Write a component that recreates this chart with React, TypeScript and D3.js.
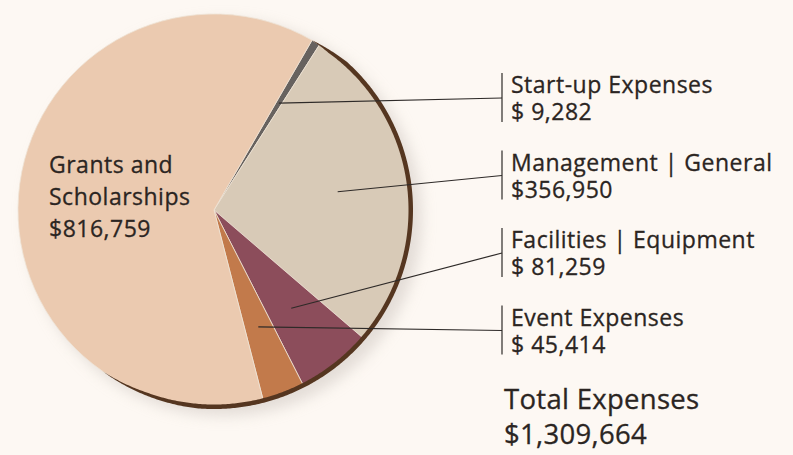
import { useEffect, useRef } from "react";
import * as d3 from "d3";

const CATEGORIES = [
  "Start-up Expenses",
  "Management | General",
  "Facilities | Equipment",
  "Event Expenses",
  "Grants and Scholarships",
];
const AMOUNTS = [9282, 356950, 81259, 45414, 816759];
const AMOUNT_LABELS = ["$ 9,282", "$356,950", "$ 81,259", "$ 45,414", "$816,759"];
const SLICE_COLORS = ["#67625f", "#d8cab7", "#8c4d5b", "#c27a4b", "#ebcab0"];
const GRANTS_LINES = ["Grants and", "Scholarships"];
const TOTAL_TITLE = "Total Expenses";

const W = 793;
const H = 455;
const CX = 214;
const CY = 210;
const R = 196;
const INK = "#2b2522";
const FONT = "'Open Sans', Lato, sans-serif";
const deg = (v: number) => (v * Math.PI) / 180;

// rim thickness around the edge: fades in at top right, out at bottom left
function rimWidth(a: number): number {
  const d = (a * 180) / Math.PI;
  if (d < 30 || d > 215) return 0;
  if (d < 42) return ((d - 30) / 12) * 3;
  if (d > 185) return ((215 - d) / 30) * 3;
  return 3;
}

export default function App() {
  const svgRef = useRef<SVGSVGElement>(null);

  useEffect(() => {
    document.body.style.margin = "0";
    const svg = d3.select(svgRef.current);
    svg.selectAll("*").remove();

    svg.append("rect").attr("width", W).attr("height", H).attr("fill", "#fdf8f3");

    const defs = svg.append("defs");
    defs.append("filter").attr("id", "soft").attr("x", "-20%").attr("y", "-20%")
      .attr("width", "140%").attr("height", "140%")
      .append("feGaussianBlur").attr("stdDeviation", 7);

    const g = svg.append("g").attr("transform", `translate(${CX},${CY})`);

    // soft shadow behind the pie
    g.append("circle").attr("cx", 10).attr("cy", 8).attr("r", R + 2)
      .attr("fill", "#d9d2cc").attr("opacity", 0.7).attr("filter", "url(#soft)");

    const pie = d3.pie<number>().sort(null).value((d) => d)
      .startAngle(deg(30))
      .endAngle(deg(30) + 2 * Math.PI);
    const arcs = pie(AMOUNTS);
    const arc = d3.arc<d3.PieArcDatum<number>>().innerRadius(0).outerRadius(R);
    const leaderArc = d3.arc<d3.PieArcDatum<number>>().innerRadius(125).outerRadius(125);

    g.selectAll("path.slice").data(arcs).enter().append("path")
      .attr("class", "slice")
      .attr("d", arc)
      .attr("fill", (_d, i) => SLICE_COLORS[i])
      .attr("stroke", "#efe3d6")
      .attr("stroke-width", 0.8);

    // dark rim along the lower right edge
    const rimAngles = d3.range(deg(29), deg(216), deg(0.5));
    const rim = d3.areaRadial<number>()
      .angle((a) => a)
      .innerRadius((a) => R - Math.min(1.5, rimWidth(a)))
      .outerRadius((a) => R + rimWidth(a));
    g.append("path").attr("d", rim(rimAngles)).attr("fill", "#553620");

    const textStyle = (t: d3.Selection<SVGTextElement, unknown, null, undefined>, size: number) =>
      t.attr("font-family", FONT).attr("font-size", size).attr("letter-spacing", 0.5)
        .attr("fill", INK).attr("stroke", INK).attr("stroke-width", 0.3);

    // leader lines and labels for the four smaller slices
    const lx = 502;
    arcs.slice(0, 4).forEach((a, i) => {
      const ly = 98 + i * 77.5;
      const [px, py] = leaderArc.centroid(a);
      svg.append("line")
        .attr("x1", CX + px).attr("y1", CY + py)
        .attr("x2", lx).attr("y2", ly)
        .attr("stroke", "#2e2a28").attr("stroke-width", 1.2);
      svg.append("line")
        .attr("x1", lx).attr("x2", lx)
        .attr("y1", ly - 25).attr("y2", ly + 24)
        .attr("stroke", "#2e2a28").attr("stroke-width", 1.2);
      const t = textStyle(svg.append("text"), 23);
      t.append("tspan").attr("x", lx + 9).attr("y", ly - 5).text(CATEGORIES[i]);
      t.append("tspan").attr("x", lx + 9).attr("y", ly + 22).text(AMOUNT_LABELS[i]);
    });

    // grants label inside the big slice
    const gt = textStyle(svg.append("text"), 23);
    GRANTS_LINES.concat([AMOUNT_LABELS[4]]).forEach((s, i) => {
      gt.append("tspan").attr("x", 49).attr("y", 173 + i * 32).text(s);
    });

    // total
    const total = d3.format("$,")(d3.sum(AMOUNTS));
    const tt = textStyle(svg.append("text"), 27.5).attr("letter-spacing", 0.3);
    tt.append("tspan").attr("x", 504).attr("y", 409).text(TOTAL_TITLE);
    tt.append("tspan").attr("x", 504).attr("y", 444).text(total);
  }, []);

  return (
    <div style={{ position: "absolute", left: 0, top: 0 }}>
      <svg ref={svgRef} width={W} height={H} style={{ display: "block" }} />
    </div>
  );
}
